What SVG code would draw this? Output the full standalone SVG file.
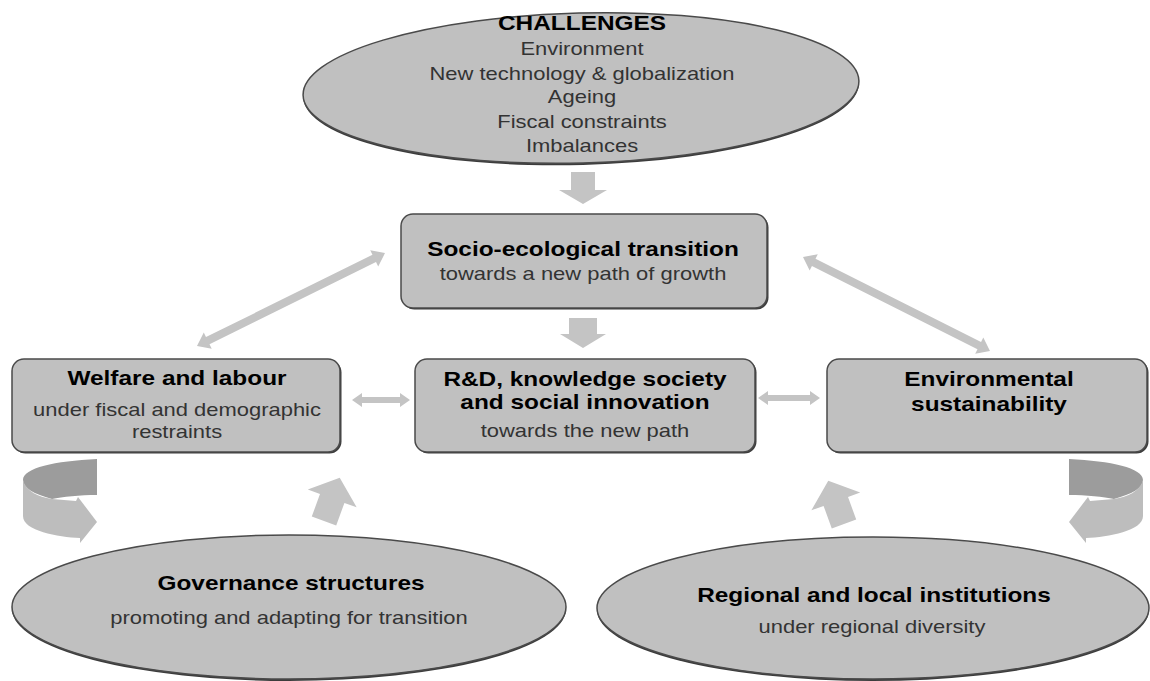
<svg xmlns="http://www.w3.org/2000/svg" width="1150" height="681" viewBox="0 0 1150 681">
  <style>
    .node-fill { fill: #c0c0c0; stroke: #4a4a4a; stroke-width: 1.5; }
    .shadow { fill: #3c3c3c; }
    .arrow { fill: #c4c4c4; }
    .curl-dark { fill: #9c9c9c; }
    .curl-light { fill: #bdbdbd; }
    .b { font-family: "Liberation Sans", Arial, sans-serif; font-weight: bold; font-size: 20px; fill: #000; text-anchor: middle; }
    .r { font-family: "Liberation Sans", Arial, sans-serif; font-size: 18px; fill: #333; text-anchor: middle; }
  </style>
  <defs>
    <!-- up-pointing block arrow, base centred at origin -->
    <path id="upArrow" d="M-13,0 L-13,-24 L-26,-24 L0,-46 L26,-24 L13,-24 L13,0 Z"/>
    <!-- curled ribbon arrow, left-hand version -->
    <g id="curl">
      <path class="curl-dark" d="M97,459 L97,495 C80,495 62,497 52,499 C34,494 23,488 23,480 C23,468 55,461 97,459 Z"/>
      <path class="curl-light" d="M23,480 C26,491 38,497 52,499 L76,501 L78,497 L97,522 L80,543 L80,538 C58,537 23,531 23,516 Z"/>
    </g>
  </defs>

  <rect width="1150" height="681" fill="#fff"/>

  <!-- connectors -->
  <g id="connectors">
    <!-- challenges down to transition -->
    <path class="arrow" d="M571,172 L595,172 L595,190 L607,190 L583,204 L559,190 L571,190 Z"/>
    <!-- transition down to R&D -->
    <path class="arrow" d="M569,318 L597,318 L597,334 L606,334 L583,348 L560,334 L569,334 Z"/>
    <!-- diagonal two-way arrows -->
    <path class="arrow" transform="translate(197,346) rotate(-26.3)" d="M0,0 L12,-9 L12,-4 L197.7,-4 L197.7,-9 L209.7,0 L197.7,9 L197.7,4 L12,4 L12,9 Z"/>
    <path class="arrow" transform="translate(803,257) rotate(26.7)" d="M0,0 L12,-9 L12,-4 L197.3,-4 L197.3,-9 L209.3,0 L197.3,9 L197.3,4 L12,4 L12,9 Z"/>
    <!-- horizontal two-way arrows -->
    <path class="arrow" d="M352,400 L362,393 L362,397 L400,397 L400,393 L410,400 L400,407 L400,403 L362,403 L362,407 Z"/>
    <path class="arrow" d="M758,398 L768,391 L768,395 L810,395 L810,391 L820,398 L810,405 L810,401 L768,401 L768,405 Z"/>
    <!-- institutions up to the boxes -->
    <use href="#upArrow" class="arrow" transform="translate(324,521) rotate(20)"/>
    <use href="#upArrow" class="arrow" transform="translate(844,524) rotate(-20)"/>
    <!-- curled arrows -->
    <use href="#curl"/>
    <use href="#curl" transform="translate(1166,0) scale(-1,1)"/>
  </g>

  <g id="challenges">
    <g transform="rotate(-1.5 581 88)">
      <ellipse class="shadow" cx="581" cy="90" rx="278" ry="75"/>
      <ellipse class="node-fill" cx="581" cy="88" rx="278" ry="75"/>
    </g>
    <text class="b" transform="translate(582,30) scale(1.22,1)">CHALLENGES</text>
    <text class="r" transform="translate(582,55) scale(1.22,1)">Environment</text>
    <text class="r" transform="translate(582,80) scale(1.22,1)">New technology &amp; globalization</text>
    <text class="r" transform="translate(582,103) scale(1.22,1)">Ageing</text>
    <text class="r" transform="translate(582,128) scale(1.22,1)">Fiscal constraints</text>
    <text class="r" transform="translate(582,152) scale(1.22,1)">Imbalances</text>
  </g>

  <g id="transition">
    <rect class="shadow" x="402.5" y="215.5" width="366" height="94" rx="12"/>
    <rect class="node-fill" x="401" y="214" width="366" height="94" rx="12"/>
    <text class="b" transform="translate(583,256) scale(1.22,1)">Socio-ecological transition</text>
    <text class="r" transform="translate(583,280) scale(1.22,1)">towards a new path of growth</text>
  </g>

  <g id="welfare">
    <rect class="shadow" x="13.5" y="360.5" width="328" height="93" rx="12"/>
    <rect class="node-fill" x="12" y="359" width="328" height="93" rx="12"/>
    <text class="b" transform="translate(177,385) scale(1.22,1)">Welfare and labour</text>
    <text class="r" transform="translate(177,416) scale(1.22,1)">under fiscal and demographic</text>
    <text class="r" transform="translate(177,438) scale(1.22,1)">restraints</text>
  </g>

  <g id="rnd">
    <rect class="shadow" x="416.5" y="360.5" width="340" height="93" rx="12"/>
    <rect class="node-fill" x="415" y="359" width="340" height="93" rx="12"/>
    <text class="b" transform="translate(585,386) scale(1.22,1)">R&amp;D, knowledge society</text>
    <text class="b" transform="translate(585,409) scale(1.22,1)">and social innovation</text>
    <text class="r" transform="translate(585,437) scale(1.22,1)">towards the new path</text>
  </g>

  <g id="environment">
    <rect class="shadow" x="828.5" y="360.5" width="320" height="93" rx="12"/>
    <rect class="node-fill" x="827" y="359" width="320" height="93" rx="12"/>
    <text class="b" transform="translate(989,386) scale(1.22,1)">Environmental</text>
    <text class="b" transform="translate(989,411) scale(1.22,1)">sustainability</text>
  </g>

  <g id="governance">
    <ellipse class="shadow" cx="289" cy="609" rx="277" ry="72"/>
    <ellipse class="node-fill" cx="289" cy="607" rx="277" ry="72"/>
    <text class="b" transform="translate(291,590) scale(1.22,1)">Governance structures</text>
    <text class="r" transform="translate(289,624) scale(1.22,1)">promoting and adapting for transition</text>
  </g>

  <g id="regional">
    <ellipse class="shadow" cx="873" cy="610" rx="276" ry="71"/>
    <ellipse class="node-fill" cx="873" cy="608" rx="276" ry="71"/>
    <text class="b" transform="translate(874,602) scale(1.22,1)">Regional and local institutions</text>
    <text class="r" transform="translate(872,633) scale(1.22,1)">under regional diversity</text>
  </g>
</svg>
